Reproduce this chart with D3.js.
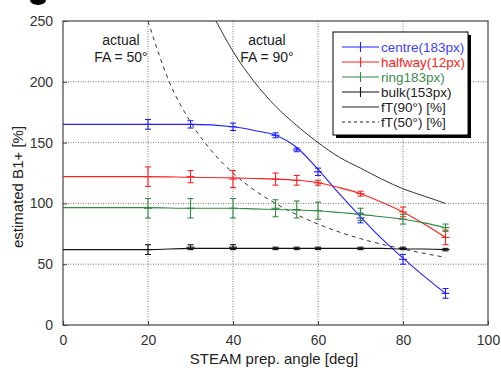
<!DOCTYPE html>
<html>
<head>
<meta charset="utf-8">
<script src="https://cdn.jsdelivr.net/npm/d3@7"></script>
<style>
  body { margin: 0; background: #fff; }
  svg { font-family: "Liberation Sans", Arial, sans-serif; }
</style>
</head>
<body>
<div id="chart"></div>
<script>
// measured angles (deg)
const angles = [20, 30, 40, 50, 55, 60, 70, 80, 90];

// measured B1+ estimates [%] and error half-widths
const centreVals = [165, 165, 163, 156, 144, 126, 88, 54, 26];
const centreErr = [4, 3, 3, 2, 1.5, 3, 4, 4, 4];
const halfwayVals = [122, 122, 120, 120, 119, 117, 108, 93, 72];
const halfwayErr = [8, 5, 7, 5, 4, 2, 2, 4, 6];
const ringVals = [96, 96, 96, 96, 95, 94, 91, 87, 80];
const ringErr = [8, 8, 8, 7, 7, 7, 5, 4, 3];
const bulkVals = [62, 64, 64, 63, 63, 63, 63, 63, 62];
const bulkErr = [4, 2, 2, 1, 1, 1, 1, 1, 1];

// fitted curves
const fitAngles = [0, 10, 20, 30, 40, 45, 50, 55, 60, 65, 70, 75, 80, 85, 90];
const centreFit = [165, 165, 165, 165, 163, 160, 156, 146, 128, 108, 89, 71, 55, 40, 26];
const halfwayFit = [122, 122, 122, 121.5, 121, 120.5, 120, 119, 117, 113, 108, 101, 93, 83, 72];
const ringFit = [96.5, 96.5, 96.5, 96, 96, 95.5, 95, 94.5, 94, 92.5, 91, 89, 87, 84, 80];
const bulkFit = [62, 62, 62, 63, 63, 63, 63, 63, 63, 63, 63, 63, 62.5, 62.5, 62];

// fT curves [%]
const ft90Angles = [36, 40, 45, 50, 55, 60, 65, 70, 75, 80, 85, 90];
const ft90Vals = [250, 225, 200, 180, 164, 150, 138, 129, 120, 112, 106, 100];
const ft50Angles = [20, 25, 30, 35, 40, 45, 50, 60, 70, 80, 90];
const ft50Vals = [250, 200, 167, 143, 125, 111, 100, 83, 71, 62.5, 55.6];

const xTicks = [0, 20, 40, 60, 80, 100];
const yTicks = [0, 50, 100, 150, 200, 250];

const series = [
  { name: "centre(183px)", color: "#2020ff", text: "#4040ff", vals: centreVals, err: centreErr, fit: centreFit },
  { name: "halfway(12px)", color: "#ff2020", text: "#ff2020", vals: halfwayVals, err: halfwayErr, fit: halfwayFit },
  { name: "ring183px)", color: "#2e8b3e", text: "#3d8a4e", vals: ringVals, err: ringErr, fit: ringFit },
  { name: "bulk(153px)", color: "#111111", text: "#222", vals: bulkVals, err: bulkErr, fit: bulkFit }
];

const width = 501, height = 368;
const margin = { top: 21, right: 13, bottom: 43, left: 63 };
const plotW = width - margin.left - margin.right;
const plotH = height - margin.top - margin.bottom;

const svg = d3.select('#chart').append('svg')
  .attr('width', width)
  .attr('height', height);

// cut-off panel letter at top-left
svg.append('ellipse')
  .attr('cx', 38).attr('cy', 0)
  .attr('rx', 8).attr('ry', 5)
  .attr('fill', '#000');

const g = svg.append('g')
  .attr('transform', `translate(${margin.left},${margin.top})`);

const x = d3.scaleLinear().domain([0, 100]).range([0, plotW]);
const y = d3.scaleLinear().domain([0, 250]).range([plotH, 0]);

// grid
g.selectAll('.vgrid').data(xTicks.slice(1, -1)).enter().append('line')
  .attr('x1', d => x(d)).attr('x2', d => x(d))
  .attr('y1', 0).attr('y2', plotH)
  .attr('stroke', '#555').attr('stroke-width', 0.8)
  .attr('stroke-dasharray', '1,1.5');
g.selectAll('.hgrid').data(yTicks.slice(1, -1)).enter().append('line')
  .attr('x1', 0).attr('x2', plotW)
  .attr('y1', d => y(d)).attr('y2', d => y(d))
  .attr('stroke', '#555').attr('stroke-width', 0.8)
  .attr('stroke-dasharray', '1,1.5');

// axes
const xAxis = g.append('g')
  .attr('transform', `translate(0,${plotH})`)
  .call(d3.axisBottom(x).tickValues(xTicks).tickSize(-4).tickPadding(10));
const yAxis = g.append('g')
  .call(d3.axisLeft(y).tickValues(yTicks).tickSize(-4).tickPadding(10));
[xAxis, yAxis].forEach(a => {
  a.select('.domain').remove();
  a.selectAll('.tick line').attr('stroke', '#444');
  a.selectAll('text').style('font-size', '14px').style('fill', '#333')
    .style('font-family', '"Liberation Sans", Arial, sans-serif');
});

// frame
g.append('rect')
  .attr('x', 0).attr('y', 0).attr('width', plotW).attr('height', plotH)
  .attr('fill', 'none').attr('stroke', '#444').attr('stroke-width', 1.2);

// fT curves
const ftLine = d3.line().x(d => x(d[0])).y(d => y(d[1])).curve(d3.curveMonotoneX);
g.append('path')
  .datum(ft90Angles.map((a, i) => [a, ft90Vals[i]]))
  .attr('d', ftLine).attr('fill', 'none')
  .attr('stroke', '#333').attr('stroke-width', 1);
g.append('path')
  .datum(ft50Angles.map((a, i) => [a, ft50Vals[i]]))
  .attr('d', ftLine).attr('fill', 'none')
  .attr('stroke', '#333').attr('stroke-width', 1)
  .attr('stroke-dasharray', '4,4');

// fits, error bars, markers
const fitLine = d3.line().x(d => x(d[0])).y(d => y(d[1])).curve(d3.curveMonotoneX);
series.forEach(s => {
  g.append('path')
    .datum(fitAngles.map((a, i) => [a, s.fit[i]]))
    .attr('d', fitLine).attr('fill', 'none')
    .attr('stroke', s.color).attr('stroke-width', 1.1);

  const pts = angles.map((a, i) => ({ a: a, v: s.vals[i], e: s.err[i] }));
  const eb = g.append('g').attr('stroke', s.color).attr('stroke-width', 1.1);
  pts.forEach(p => {
    eb.append('line')
      .attr('x1', x(p.a)).attr('x2', x(p.a))
      .attr('y1', y(p.v - p.e)).attr('y2', y(p.v + p.e));
    [p.v - p.e, p.v + p.e].forEach(v => {
      eb.append('line')
        .attr('x1', x(p.a) - 3).attr('x2', x(p.a) + 3)
        .attr('y1', y(v)).attr('y2', y(v));
    });
    eb.append('line')
      .attr('x1', x(p.a) - 4).attr('x2', x(p.a) + 4)
      .attr('y1', y(p.v)).attr('y2', y(p.v));
  });
});

// annotations
const note = (cx, lines) => {
  lines.forEach((t, i) => {
    svg.append('text')
      .attr('x', cx).attr('y', 45 + i * 17)
      .attr('text-anchor', 'middle')
      .style('font-size', '14px').style('fill', '#222')
      .text(t);
  });
};
note(121, ['actual', 'FA = 50°']);
note(267, ['actual', 'FA = 90°']);

// axis labels
svg.append('text')
  .attr('x', 274).attr('y', 364)
  .attr('text-anchor', 'middle')
  .style('font-size', '15px').style('fill', '#222')
  .text('STEAM prep. angle [deg]');
svg.append('text')
  .attr('transform', 'translate(23,187) rotate(-90)')
  .attr('text-anchor', 'middle')
  .style('font-size', '15px').style('fill', '#222')
  .text('estimated B1+ [%]');

// legend
const lg = svg.append('g').attr('transform', 'translate(333,32)');
lg.append('rect').attr('x', 3).attr('y', 3).attr('width', 135).attr('height', 103).attr('fill', '#000');
lg.append('rect').attr('x', 0).attr('y', 0).attr('width', 135).attr('height', 103)
  .attr('fill', '#fff').attr('stroke', '#000').attr('stroke-width', 1);
const legendItems = series.map(s => ({ name: s.name, color: s.color, text: s.text, marker: true, dash: null }))
  .concat([
    { name: 'fT(90°) [%]', color: '#222', text: '#222', marker: false, dash: null },
    { name: 'fT(50°)  [%]', color: '#222', text: '#222', marker: false, dash: '3,3' }
  ]);
legendItems.forEach((d, i) => {
  const yy = 15 + i * 15;
  lg.append('line')
    .attr('x1', 9).attr('x2', 46).attr('y1', yy).attr('y2', yy)
    .attr('stroke', d.color).attr('stroke-width', 1.1)
    .attr('stroke-dasharray', d.dash);
  if (d.marker) {
    lg.append('line')
      .attr('x1', 27.5).attr('x2', 27.5).attr('y1', yy - 5).attr('y2', yy + 5)
      .attr('stroke', d.color).attr('stroke-width', 1.1);
  }
  lg.append('text')
    .attr('x', 48).attr('y', yy + 4.5)
    .style('font-size', '13.5px')
    .style('fill', d.text)
    .text(d.name);
});
</script>
</body>
</html>
